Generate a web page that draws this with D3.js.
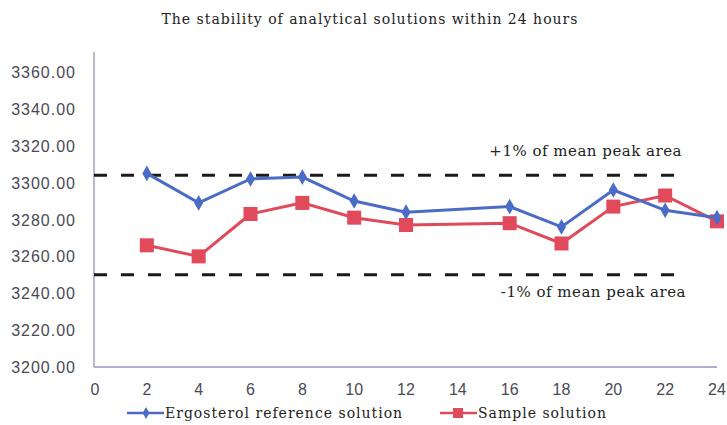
<!DOCTYPE html>
<html>
<head>
<meta charset="utf-8">
<script src="https://cdn.jsdelivr.net/npm/d3@7"></script>
<style>
  body { margin: 0; background: #fff; }
</style>
</head>
<body>
<div id="chart"></div>
<script>
// hours sampled (no reading at 14 h)
var hours = [2, 4, 6, 8, 10, 12, 16, 18, 20, 22, 24];
// peak areas
var ergosterol = [3305, 3289, 3302, 3303, 3290, 3284, 3287, 3276, 3296, 3285, 3281];
var sample = [3266, 3260, 3283, 3289, 3281, 3277, 3278, 3267, 3287, 3293, 3279];
var xTicks = [0, 2, 4, 6, 8, 10, 12, 14, 16, 18, 20, 22, 24];
var yTicks = [3200, 3220, 3240, 3260, 3280, 3300, 3320, 3340, 3360];
// +1% / -1% of mean peak area
var limits = [3304, 3250];

var w = 727, h = 425;

var svg = d3.select("#chart").append("svg")
    .attr("width", w)
    .attr("height", h);

var xScale = d3.scaleLinear().domain([0, 24]).range([95, 717]);
var yScale = d3.scaleLinear().domain([3200, 3360]).range([367, 72]);

var serif = "'DejaVu Serif', serif";
var sans = "'Liberation Sans', Arial, sans-serif";

// title
svg.append("text")
    .attr("x", 370).attr("y", 24)
    .attr("text-anchor", "middle")
    .style("font-family", serif)
    .style("font-size", "14px")
    .style("letter-spacing", "1px")
    .style("fill", "#222")
    .text("The stability of analytical solutions within 24 hours");

// axis lines
svg.append("line")
    .attr("x1", 94).attr("x2", 94)
    .attr("y1", 52).attr("y2", 367)
    .style("stroke", "#9a90bb").style("stroke-width", 1.3);
svg.append("line")
    .attr("x1", 94).attr("x2", 717)
    .attr("y1", 367).attr("y2", 367)
    .style("stroke", "#9a90bb").style("stroke-width", 1.3);

// tick labels
svg.selectAll(".ylab")
    .data(yTicks)
    .enter().append("text")
    .attr("x", 76)
    .attr("y", d => yScale(d) + 6)
    .attr("text-anchor", "end")
    .style("font-family", sans)
    .style("font-size", "16px")
    .style("letter-spacing", "1px")
    .style("fill", "#4a4a55")
    .text(d => d.toFixed(2));

svg.selectAll(".xlab")
    .data(xTicks)
    .enter().append("text")
    .attr("x", d => xScale(d))
    .attr("y", 395)
    .attr("text-anchor", "middle")
    .style("font-family", sans)
    .style("font-size", "16px")
    .style("fill", "#4a4a55")
    .text(d => d);

// +/-1% limit lines
svg.selectAll(".limit")
    .data(limits)
    .enter().append("line")
    .attr("x1", 94).attr("x2", 681)
    .attr("y1", d => yScale(d)).attr("y2", d => yScale(d))
    .style("stroke", "#1a1a1a")
    .style("stroke-width", 3)
    .style("stroke-dasharray", "13,14");

svg.append("text")
    .attr("x", 682).attr("y", yScale(limits[0]) - 19)
    .attr("text-anchor", "end")
    .style("font-family", serif)
    .style("font-size", "15px")
    .style("letter-spacing", "0.5px")
    .style("fill", "#222")
    .text("+1% of mean peak area");
svg.append("text")
    .attr("x", 686).attr("y", yScale(limits[1]) + 22)
    .attr("text-anchor", "end")
    .style("font-family", serif)
    .style("font-size", "15px")
    .style("letter-spacing", "0.5px")
    .style("fill", "#222")
    .text("-1% of mean peak area");

var line = d3.line()
    .x(d => xScale(d[0]))
    .y(d => yScale(d[1]));

var blue = "#4a6cc6", red = "#e04a5a";

var ergoPts = hours.map((x, i) => [x, ergosterol[i]]);
var samplePts = hours.map((x, i) => [x, sample[i]]);

svg.append("path")
    .datum(samplePts)
    .attr("d", line)
    .style("fill", "none")
    .style("stroke", red)
    .style("stroke-width", 3);

svg.selectAll(".sq")
    .data(samplePts)
    .enter().append("rect")
    .attr("x", d => xScale(d[0]) - 7)
    .attr("y", d => yScale(d[1]) - 7)
    .attr("width", 14).attr("height", 14)
    .style("fill", red);

svg.append("path")
    .datum(ergoPts)
    .attr("d", line)
    .style("fill", "none")
    .style("stroke", blue)
    .style("stroke-width", 3);

svg.selectAll(".dia")
    .data(ergoPts)
    .enter().append("path")
    .attr("d", d3.symbol().type(d3.symbolDiamond).size(70))
    .attr("transform", d => `translate(${xScale(d[0])},${yScale(d[1])})`)
    .style("fill", blue);

// legend
var legend = [
    { name: "Ergosterol reference solution", color: blue, x: 127, sq: false },
    { name: "Sample solution", color: red, x: 440, sq: true }
];
var lg = svg.selectAll(".lg")
    .data(legend)
    .enter().append("g")
    .attr("transform", d => `translate(${d.x},413)`);
lg.append("line")
    .attr("x1", 0).attr("x2", 37)
    .style("stroke", d => d.color)
    .style("stroke-width", 2.5);
lg.filter(d => !d.sq).append("path")
    .attr("d", d3.symbol().type(d3.symbolDiamond).size(40))
    .attr("transform", "translate(19,0)")
    .style("fill", d => d.color);
lg.filter(d => d.sq).append("rect")
    .attr("x", 13).attr("y", -5)
    .attr("width", 10).attr("height", 10)
    .style("fill", d => d.color);
lg.append("text")
    .attr("x", 38).attr("y", 5)
    .style("font-family", serif)
    .style("font-size", "14px")
    .style("letter-spacing", "1px")
    .style("fill", "#222")
    .text(d => d.name);
</script>
</body>
</html>
